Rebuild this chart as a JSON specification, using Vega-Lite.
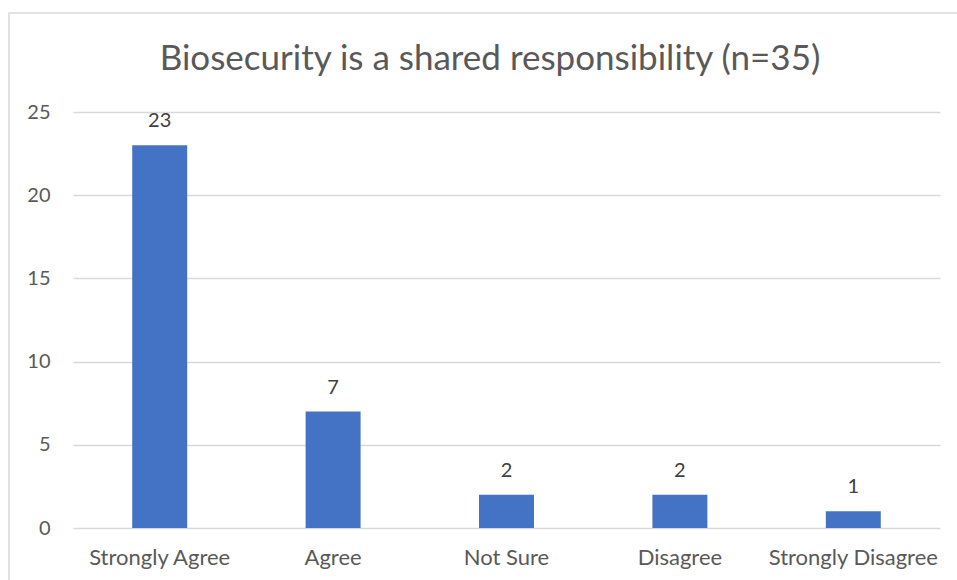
{
  "$schema": "https://vega.github.io/schema/vega-lite/v6.json",
  "autosize": "none",
  "width": 952,
  "height": 572,
  "padding": {"left": 9, "top": 13, "right": 0, "bottom": 0},
  "background": "white",
  "title": {
    "text": "Biosecurity is a shared responsibility (n=35)",
    "font": "Lato",
    "fontSize": 35,
    "fontWeight": "normal",
    "color": "#595959",
    "anchor": "middle",
    "baseline": "bottom",
    "offset": -58,
    "dy": 41,
    "dx": 5
  },
  "config": {
    "view": {"stroke": "#d9d9d9", "strokeWidth": 1.5},
    "font": "Lato"
  },
  "data": {
    "values": [
      {"response": "Strongly Agree", "count": 23},
      {"response": "Agree", "count": 7},
      {"response": "Not Sure", "count": 2},
      {"response": "Disagree", "count": 2},
      {"response": "Strongly Disagree", "count": 1}
    ]
  },
  "encoding": {
    "x": {
      "field": "response",
      "type": "nominal",
      "sort": null,
      "scale": {"range": [64, 931], "paddingInner": 0.683, "paddingOuter": 0.3415},
      "axis": {
        "title": null,
        "labelAngle": 0,
        "labelFont": "Lato",
        "labelFontSize": 22,
        "labelColor": "#595959",
        "labelPadding": 19,
        "ticks": false,
        "domain": false,
        "grid": false,
        "offset": -57
      }
    },
    "y": {
      "field": "count",
      "type": "quantitative",
      "scale": {"domain": [0, 25], "range": [515, 99], "nice": false},
      "axis": {
        "title": null,
        "values": [0, 5, 10, 15, 20, 25],
        "labelFont": "Lato",
        "labelFontSize": 20,
        "labelColor": "#595959",
        "labelPadding": 0,
        "ticks": false,
        "domain": false,
        "grid": true,
        "gridColor": "#d9d9d9",
        "gridWidth": 1.5,
        "offset": -41
      }
    }
  },
  "layer": [
    {"mark": {"type": "bar", "color": "#4472C4"}},
    {
      "mark": {
        "type": "text",
        "font": "Lato",
        "fontSize": 20,
        "color": "#404040",
        "baseline": "bottom",
        "dy": -14
      },
      "encoding": {"text": {"field": "count", "type": "quantitative"}}
    }
  ]
}
